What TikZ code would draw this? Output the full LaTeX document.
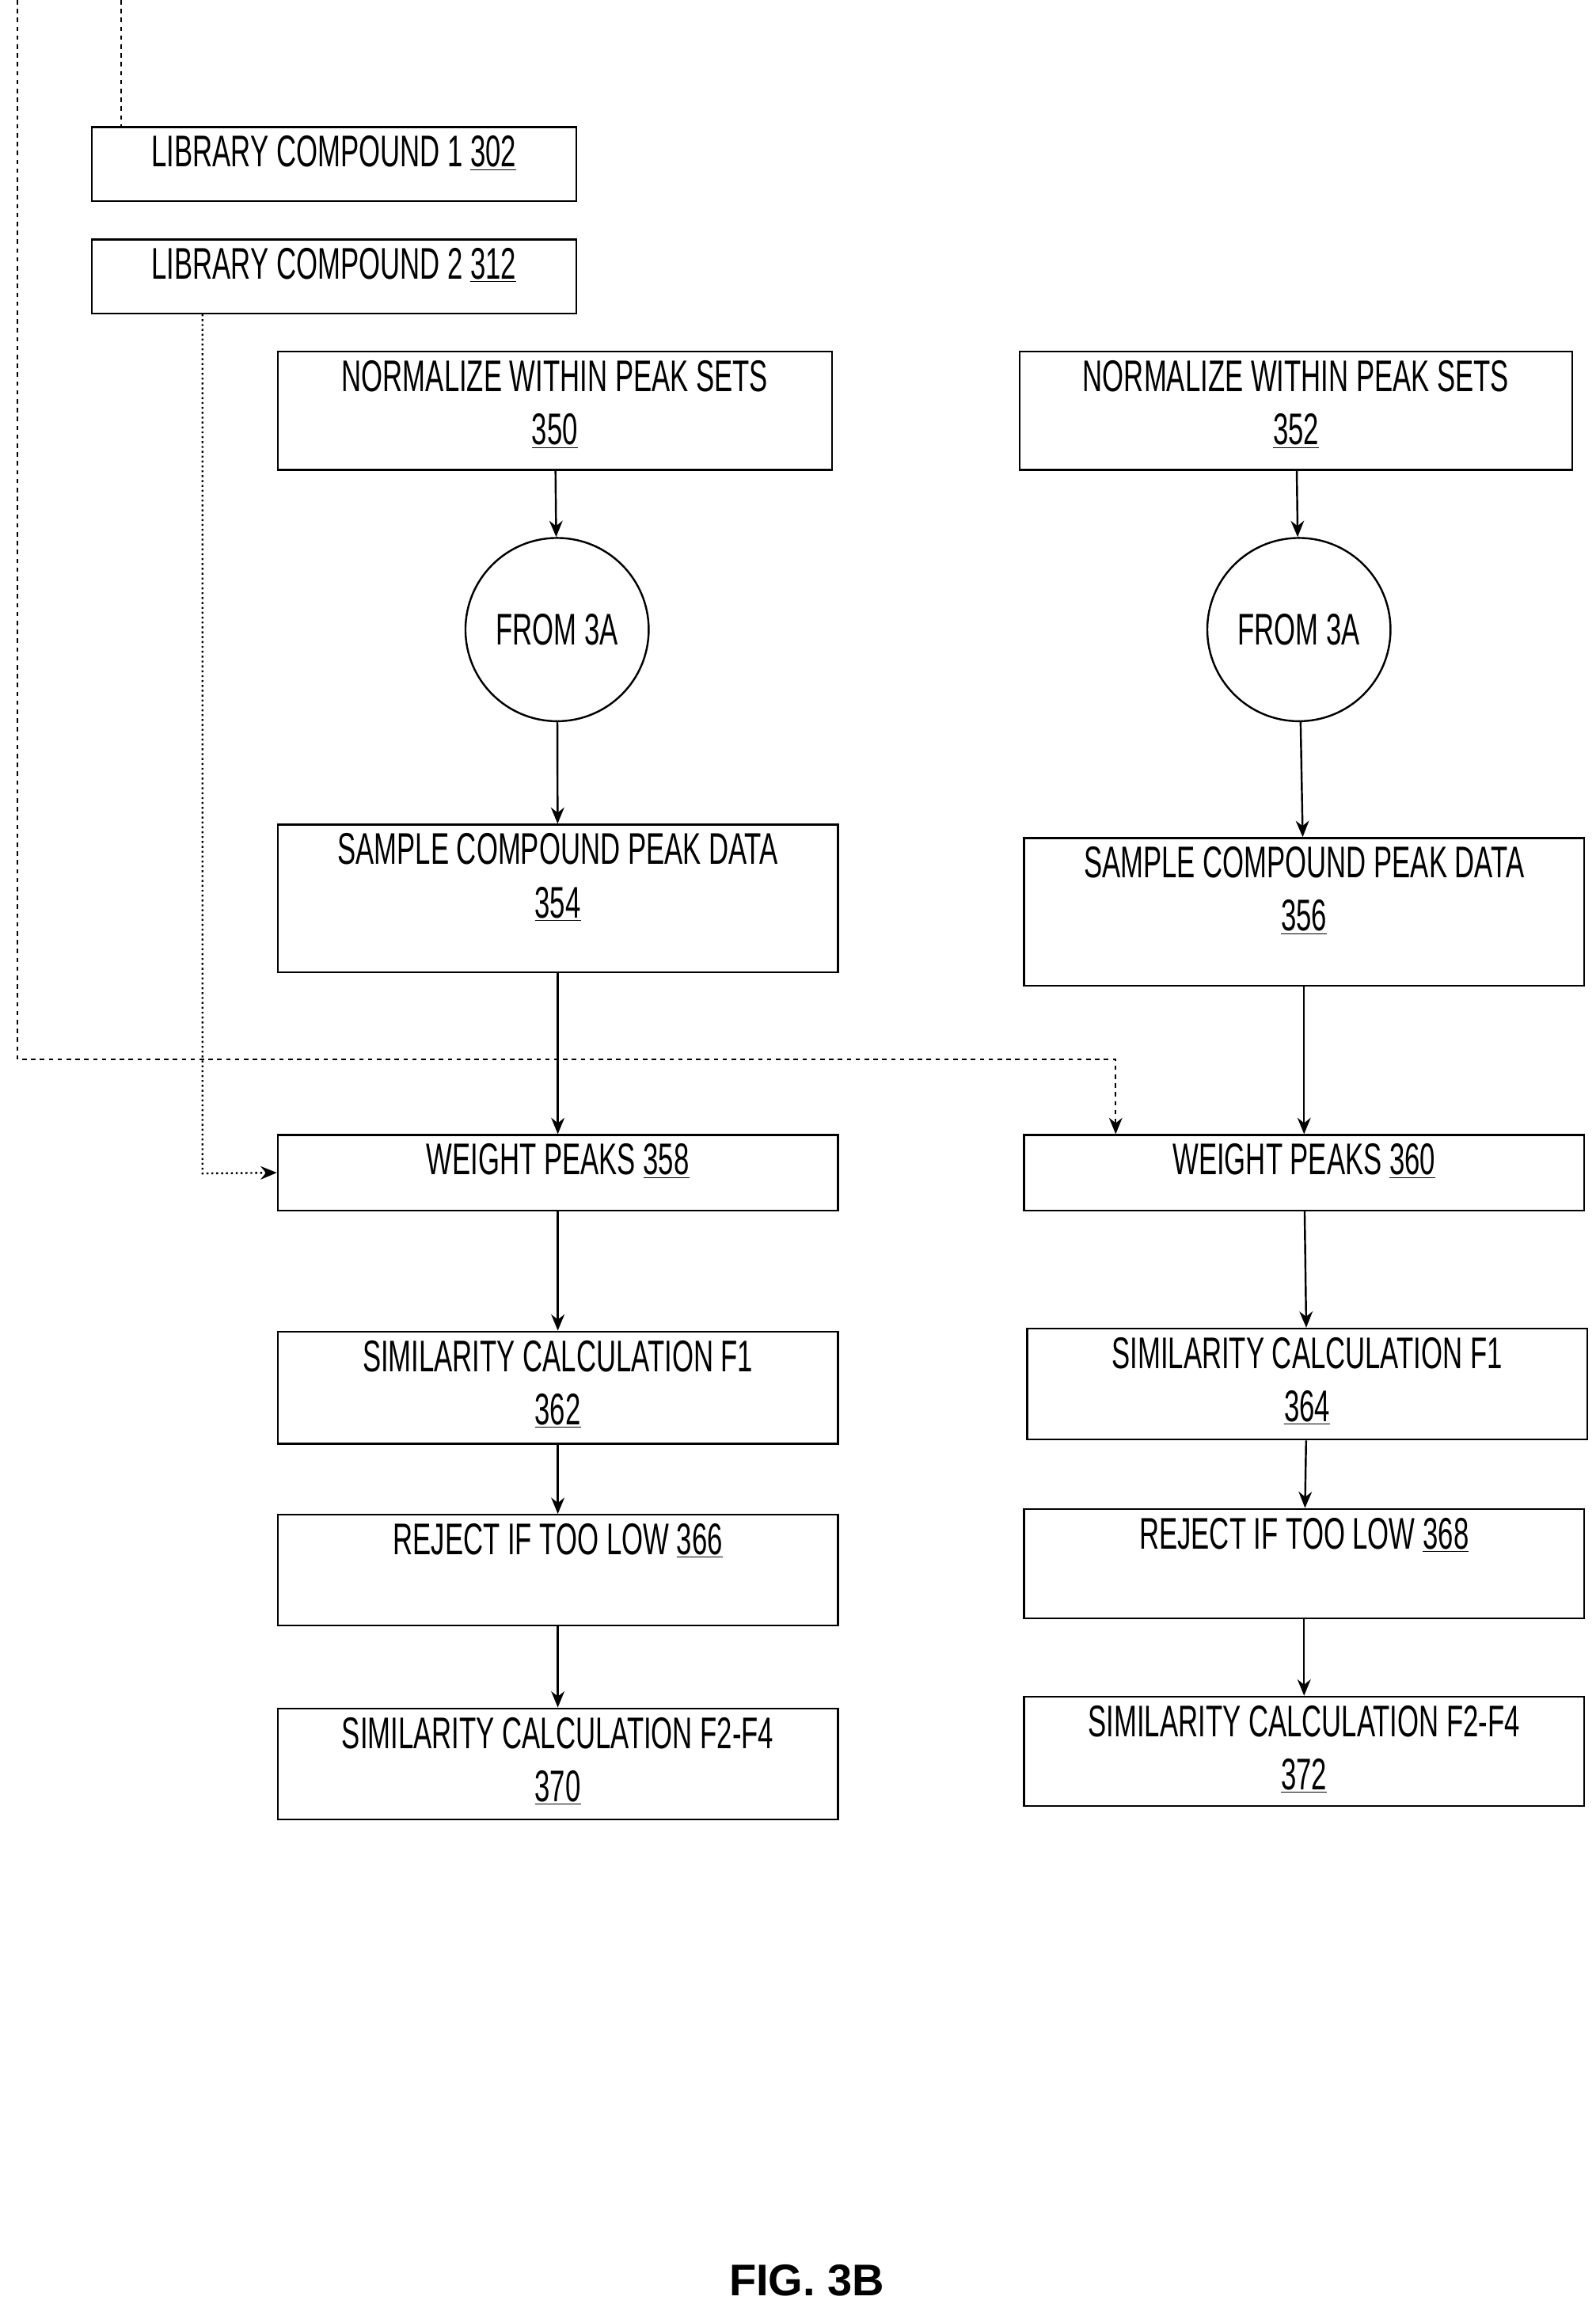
\documentclass[tikz,border=0pt]{standalone}
\usepackage{fontspec}
\setmainfont{Liberation Sans}[FakeStretch=0.62]
\newfontfamily\figfont{Liberation Sans}
\usetikzlibrary{arrows.meta}
\newcommand{\bx}[6]{\node[box,minimum width={(#4-#2)*1pt},minimum height={(#5-#3)*1pt},
  label={[anchor=north,inner sep=0pt,yshift=-6pt,align=center,font=\fontsize{30}{36}\selectfont]north:#6}] (#1) at ({(#2+#4)/2},{(#3+#5)/2}) {};}
\begin{document}
\begin{tikzpicture}[x=1pt,y=-1pt,line width=1.3pt,
  box/.style={draw,rectangle,inner sep=0pt},
  arr/.style={-{Stealth[length=11pt,width=9pt]}}]
\useasboundingbox (0,0) rectangle (1080,1559);
\bx{lc1}{62}{86}{390}{136}{LIBRARY COMPOUND 1 \underline{302}}
\bx{lc2}{62}{162}{390}{212}{LIBRARY COMPOUND 2 \underline{312}}
\bx{n350}{188}{238}{563}{318}{NORMALIZE WITHIN PEAK SETS\\\underline{350}}
\bx{n352}{690}{238}{1064}{318}{NORMALIZE WITHIN PEAK SETS\\\underline{352}}
\node[draw,circle,minimum size=124pt,inner sep=0pt,font=\fontsize{30}{36}\selectfont] (c1) at (377,426) {FROM 3A};
\node[draw,circle,minimum size=124pt,inner sep=0pt,font=\fontsize{30}{36}\selectfont] (c2) at (879,426) {FROM 3A};
\bx{s354}{188}{558}{567}{658}{SAMPLE COMPOUND PEAK DATA\\\underline{354}}
\bx{s356}{693}{567}{1072}{667}{SAMPLE COMPOUND PEAK DATA\\\underline{356}}
\bx{w358}{188}{768}{567}{819}{WEIGHT PEAKS \underline{358}}
\bx{w360}{693}{768}{1072}{819}{WEIGHT PEAKS \underline{360}}
\bx{sc362}{188}{901}{567}{977}{SIMILARITY CALCULATION F1\\\underline{362}}
\bx{sc364}{695}{899}{1074}{974}{SIMILARITY CALCULATION F1\\\underline{364}}
\bx{r366}{188}{1025}{567}{1100}{REJECT IF TOO LOW \underline{366}}
\bx{r368}{693}{1021}{1072}{1095}{REJECT IF TOO LOW \underline{368}}
\bx{f370}{188}{1156}{567}{1231}{SIMILARITY CALCULATION F2-F4\\\underline{370}}
\bx{f372}{693}{1148}{1072}{1222}{SIMILARITY CALCULATION F2-F4\\\underline{372}}
\draw[arr] (n350) -- (c1);
\draw[arr] (n352) -- (c2);
\draw[arr] (c1) -- (s354);
\draw[arr] (c2) -- (s356);
\draw[arr] (s354) -- (w358);
\draw[arr] (s356) -- (w360);
\draw[arr] (w358) -- (sc362);
\draw[arr] (w360) -- (sc364);
\draw[arr] (sc362) -- (r366);
\draw[arr] (sc364) -- (r368);
\draw[arr] (r366) -- (f370);
\draw[arr] (r368) -- (f372);
\coordinate (t1) at (82,0);
\coordinate (t2) at (12,0);
\coordinate (d1) at (755,717);
\draw[dashed,line width=1pt] (t1) -- (lc1.north -| t1);
\draw[dashed,line width=1pt,arr] (t2) |- (d1) -- (w360.north -| d1);
\coordinate (d2) at (137,794);
\draw[dotted,line width=1.3pt,arr] (lc2.south -| d2) -- (d2) -- (w358.west);
\node[font=\figfont\bfseries\fontsize{30}{36}\selectfont] (fig) at (546,1543) {FIG. 3B};
\end{tikzpicture}
\end{document}
